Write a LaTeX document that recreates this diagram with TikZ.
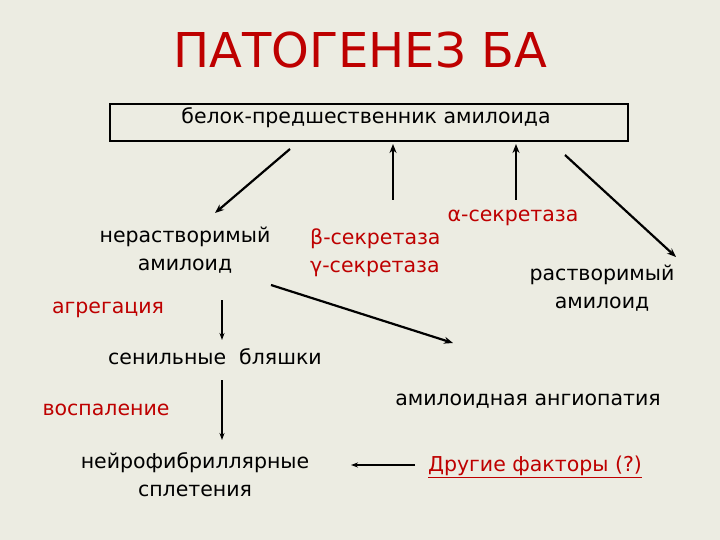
\documentclass[tikz,border=0pt]{standalone}
\usepackage{fontspec}
\usetikzlibrary{arrows.meta}
\setmainfont{DejaVu Sans}
\definecolor{bg}{RGB}{236,236,226}
\definecolor{dred}{RGB}{190,0,0}
\begin{document}
\begin{tikzpicture}[x=1pt,y=-1pt,
  txt/.style={font=\fontsize{20.5}{28}\selectfont, inner sep=0pt, align=center},
  rtxt/.style={txt, text=dred},
  arr/.style={-{Stealth[length=9pt,width=7pt]}, line width=2.2pt},
  thin/.style={-{Stealth[length=7pt,width=5pt]}, line width=1.3pt}]
\fill[bg] (0,0) rectangle (720,540);
\useasboundingbox (0,0) rectangle (720,540);
\node[inner sep=0pt, text=dred, font=\fontsize{48}{52}\selectfont] (title) at (360,50) {ПАТОГЕНЕЗ БА};
\node[draw, line width=2.5pt, minimum width=518pt, minimum height=37pt, inner sep=0pt] (box) at (369,122.5) {};
\node[txt] (boxt) at (366,118) {белок-предшественник амилоида};
\node[txt] (insol) at (185,250) {нерастворимый\\амилоид};
\node[rtxt] (agg) at (108,310) {агрегация};
\node[rtxt, align=left, anchor=west] (bg) at (310,253) {β-секретаза\\γ-секретаза};
\node[rtxt] (alpha) at (513,218) {α-секретаза};
\node[txt] (sol) at (602,288) {растворимый\\амилоид};
\node[txt] (plaq) at (215,357) {сенильные\ \ бляшки};
\node[rtxt] (infl) at (106,410) {воспаление};
\node[txt] (angio) at (528,401) {амилоидная ангиопатия};
\node[txt] (tang) at (195,475) {нейрофибриллярные\\сплетения};
\node[rtxt] (other) at (535,467) {\underline{Другие факторы (?)}};
\coordinate (a1s) at (290,149); \coordinate (a1e) at (215,213);
\coordinate (a2s) at (393,200); \coordinate (a2e) at (393,144);
\coordinate (a3s) at (516,200); \coordinate (a3e) at (516,144);
\coordinate (a4s) at (565,155); \coordinate (a4e) at (676,257);
\coordinate (a5s) at (271,285); \coordinate (a5e) at (453,343);
\coordinate (a6s) at (222,300); \coordinate (a6e) at (222,340);
\coordinate (a7s) at (222,380); \coordinate (a7e) at (222,440);
\coordinate (a8s) at (415,465); \coordinate (a8e) at (351,465);
\draw[arr] (a1s) -- (a1e);
\draw[arr] (a2s) -- (a2e);
\draw[arr] (a3s) -- (a3e);
\draw[arr] (a4s) -- (a4e);
\draw[arr] (a5s) -- (a5e);
\draw[thin] (a6s) -- (a6e);
\draw[thin] (a7s) -- (a7e);
\draw[thin] (a8s) -- (a8e);
\end{tikzpicture}
\end{document}
